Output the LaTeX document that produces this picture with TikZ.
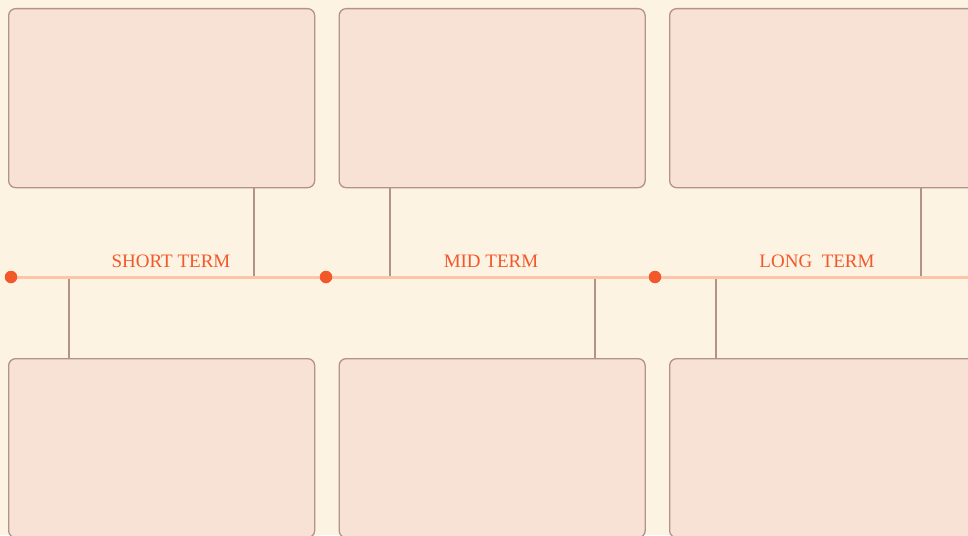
\documentclass[tikz,border=0pt]{standalone}
\usepackage{fontspec}
\setmainfont{Liberation Serif}
\definecolor{bg}{HTML}{FDF3E3}
\definecolor{boxfill}{HTML}{F8E2D6}
\definecolor{boxline}{HTML}{B3928A}
\definecolor{tline}{HTML}{FCC4A9}
\definecolor{accent}{HTML}{F2582A}
\begin{document}
\begin{tikzpicture}[x=1pt,y=-1pt,
  card/.style={draw=boxline,fill=boxfill,line width=1.3pt,rounded corners=7pt,minimum width=306pt,minimum height=179pt,anchor=north west,inner sep=0pt},
  link/.style={draw=boxline,line width=1.2pt},
  dot/.style={circle,fill=accent,minimum size=12.5pt,inner sep=0pt},
  lbl/.style={text=accent,font=\fontsize{19}{19}\selectfont,anchor=base}]
\clip (0,0) rectangle (968,535);
\fill[bg] (0,0) rectangle (968,535);
% timeline
\coordinate (t0) at (11,277);
\coordinate (tE) at (975,277);
\draw[tline,line width=3pt] (t0) -- (tE);
% cards
\node[card] (a1) at (8,8) {};
\node[card] (a2) at (338.5,8) {};
\node[card] (a3) at (669,8) {};
\node[card] (b1) at (8,358) {};
\node[card] (b2) at (338.5,358) {};
\node[card] (b3) at (669,358) {};
% dots
\node[dot] (d1) at (11,277) {};
\node[dot] (d2) at (326,277) {};
\node[dot] (d3) at (655,277) {};
% labels
\node[lbl] (l1) at (171,267.5) {SHORT TERM};
\node[lbl] (l2) at (491,267.5) {MID TERM};
\node[lbl] (l3) at (817,267.5) {LONG\ \ TERM};
% connectors
\coordinate (c1) at (254,276);
\coordinate (c2) at (390,276);
\coordinate (c3) at (921,276);
\coordinate (e1) at (69,279);
\coordinate (e2) at (595,279);
\coordinate (e3) at (716,279);
\draw[link] (a1.south -| c1) -- (c1);
\draw[link] (a2.south -| c2) -- (c2);
\draw[link] (a3.south -| c3) -- (c3);
\draw[link] (e1) -- (b1.north -| e1);
\draw[link] (e2) -- (b2.north -| e2);
\draw[link] (e3) -- (b3.north -| e3);
\end{tikzpicture}
\end{document}
